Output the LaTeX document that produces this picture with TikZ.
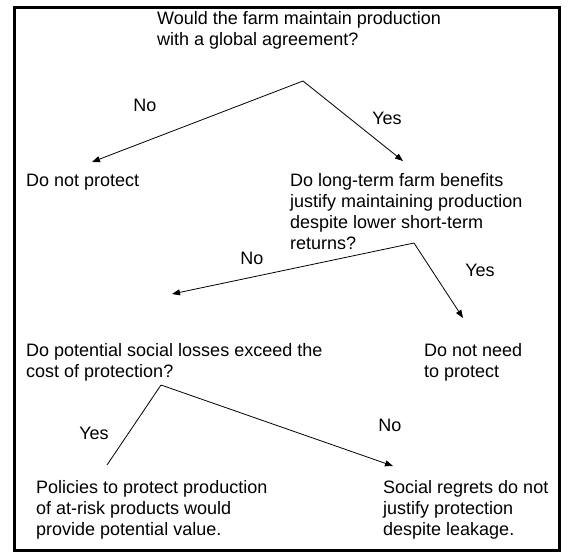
\documentclass[tikz,border=0pt]{standalone}
\usepackage{fontspec}
\setmainfont{Liberation Sans}
\usetikzlibrary{arrows.meta}
\begin{document}
\begin{tikzpicture}[x=1pt,y=-1pt,
  txt/.style={anchor=base west,align=left,inner sep=0pt,font=\fontsize{18}{21}\selectfont},
  lbl/.style={inner sep=2pt,font=\fontsize{18}{21}\selectfont},
  conn/.style={line width=0.8pt},
  arr/.style={conn,-{Triangle[length=8pt,width=6pt]}}]
\useasboundingbox (0,0) rectangle (568,552);
\draw[line width=2.6pt] (14.5,7.5) rectangle (559.5,550.5);
% texts (anchor = baseline of the last line)
\node[txt] (q1) at (157,45) {Would the farm maintain production\\with a global agreement?};
\node[txt] (dnp) at (26,186) {Do not protect};
\node[txt] (q2) at (290,249) {Do long-term farm benefits\\justify maintaining production\\despite lower short-term\\returns?};
\node[txt] (q3) at (26,377) {Do potential social losses exceed the\\cost of protection?};
\node[txt] (dnn) at (424,377) {Do not need\\to protect};
\node[txt] (pol) at (36,535) {Policies to protect production\\of at-risk products would\\provide potential value.};
\node[txt] (soc) at (383,535) {Social regrets do not\\justify protection\\despite leakage.};
% junction points
\coordinate (a1) at (303,81);
\coordinate (e1n) at (92,162);
\coordinate (e1y) at (403,161);
\coordinate (a2) at (414,243);
\coordinate (e2n) at (172,294);
\coordinate (e2y) at (463,318);
\coordinate (a3) at (161,385);
\coordinate (e3y) at (107,465);
\coordinate (e3n) at (393,466);
% connectors
\draw[arr] (a1) -- (e1n);
\draw[arr] (a1) -- (e1y);
\draw[arr] (a2) -- (e2n);
\draw[arr] (a2) -- (e2y);
\draw[conn] (a3) -- (e3y);
\draw[arr] (a3) -- (e3n);
% labels
\node[lbl] (l1n) at (145,105) {No};
\node[lbl] (l1y) at (387,118) {Yes};
\node[lbl] (l2n) at (252,258) {No};
\node[lbl] (l2y) at (480,270) {Yes};
\node[lbl] (l3y) at (94,433) {Yes};
\node[lbl] (l3n) at (390,425) {No};
\end{tikzpicture}
\end{document}
